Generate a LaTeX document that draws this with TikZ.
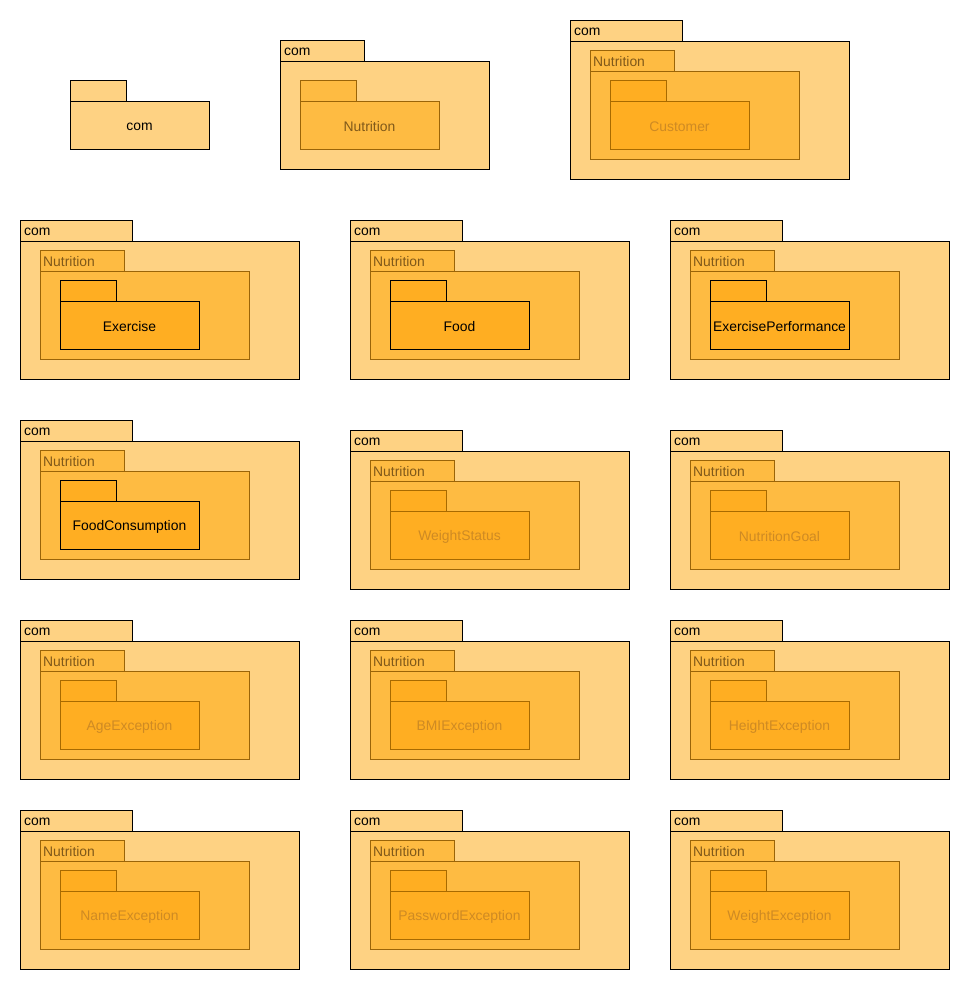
\documentclass[tikz,border=0pt]{standalone}
\usepackage{fontspec}
\setmainfont{Liberation Sans}
\definecolor{comfill}{HTML}{FED283}
\definecolor{nutfill}{HTML}{FEBB42}
\definecolor{nutdraw}{HTML}{9A6408}
\definecolor{innfill}{HTML}{FFAE22}
\definecolor{fadedraw}{HTML}{A86A00}
\definecolor{nuttext}{HTML}{80591A}
\definecolor{fadetext}{HTML}{CE8A24}
\tikzset{
  pbox/.style={rectangle, inner sep=0pt, outer sep=0pt, anchor=north west, line width=0.9pt},
  comtab/.style={pbox, fill=comfill, draw=black, minimum height=21pt},
  nuttab/.style={pbox, fill=nutfill, draw=nutdraw, minimum height=21pt},
  inntab/.style={pbox, fill=innfill, minimum height=21pt},
  lbl/.style={inner sep=0pt, anchor=west, yshift=-1.5pt, font=\fontsize{13.9}{16}\selectfont},
  ctr/.style={inner sep=0pt, yshift=-1.5pt, font=\fontsize{13.9}{16}\selectfont}
}
% full package: id, X, Y, inner name, inner border colour, inner text colour
\newcommand\fullpkg[6]{%
  \node[comtab, minimum width=112pt] (#1-ctab) at (#2,#3) {};
  \node[comtab, minimum width=279pt, minimum height=138pt] (#1-cbody) at (#2,#3+21) {};
  \node[lbl, text=black] (#1-clbl) at (#2+4,#3+10.5) {com};
  \node[nuttab, minimum width=84pt] (#1-ntab) at (#2+20,#3+30) {};
  \node[nuttab, minimum width=209pt, minimum height=88pt] (#1-nbody) at (#2+20,#3+51) {};
  \node[lbl, text=nuttext] (#1-nlbl) at (#2+23,#3+40.5) {Nutrition};
  \node[inntab, draw=#5, minimum width=56pt] (#1-itab) at (#2+40,#3+60) {};
  \node[inntab, draw=#5, minimum width=139pt, minimum height=48pt] (#1-ibody) at (#2+40,#3+81) {};
  \node[ctr, text=#6] (#1-ilbl) at (#2+109.5,#3+105) {#4};
}
\begin{document}
\begin{tikzpicture}[x=1pt,y=-1pt]
\useasboundingbox (0,0) rectangle (970,990);
% row 1, col 1: single com package
\node[comtab, minimum width=56pt] (a-tab) at (70,80) {};
\node[comtab, minimum width=139pt, minimum height=48pt] (a-body) at (70,101) {};
\node[ctr, text=black] (a-lbl) at (139.5,125) {com};
% row 1, col 2: com containing Nutrition
\node[comtab, minimum width=84pt] (b-ctab) at (280,40) {};
\node[comtab, minimum width=209pt, minimum height=108pt] (b-cbody) at (280,61) {};
\node[lbl, text=black] (b-clbl) at (284,50.5) {com};
\node[nuttab, minimum width=56pt] (b-ntab) at (300,80) {};
\node[nuttab, minimum width=139pt, minimum height=48pt] (b-nbody) at (300,101) {};
\node[ctr, text=nuttext] (b-nlbl) at (369.5,125) {Nutrition};
% row 1, col 3
\fullpkg{cust}{570}{20}{Customer}{fadedraw}{fadetext}
% row 2
\fullpkg{exer}{20}{220}{Exercise}{black}{black}
\fullpkg{food}{350}{220}{Food}{black}{black}
\fullpkg{expf}{670}{220}{ExercisePerformance}{black}{black}
% row 3
\fullpkg{fcon}{20}{420}{FoodConsumption}{black}{black}
\fullpkg{wsta}{350}{430}{WeightStatus}{fadedraw}{fadetext}
\fullpkg{ngoa}{670}{430}{NutritionGoal}{fadedraw}{fadetext}
% row 4
\fullpkg{agee}{20}{620}{AgeException}{fadedraw}{fadetext}
\fullpkg{bmie}{350}{620}{BMIException}{fadedraw}{fadetext}
\fullpkg{hgte}{670}{620}{HeightException}{fadedraw}{fadetext}
% row 5
\fullpkg{name}{20}{810}{NameException}{fadedraw}{fadetext}
\fullpkg{pwde}{350}{810}{PasswordException}{fadedraw}{fadetext}
\fullpkg{wgte}{670}{810}{WeightException}{fadedraw}{fadetext}
\end{tikzpicture}
\end{document}
